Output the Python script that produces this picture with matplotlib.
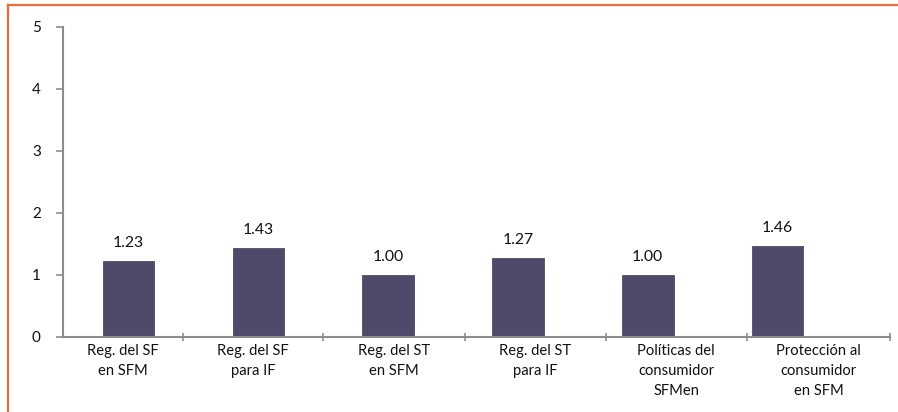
import matplotlib
matplotlib.use("Agg")
import matplotlib.pyplot as plt
from matplotlib.lines import Line2D

categories = ["Reg. del SF\nen SFM", "Reg. del SF\npara IF", "Reg. del ST\nen SFM",
              "Reg. del ST\npara IF", "Políticas del\nconsumidor\nSFMen",
              "Protección al\nconsumidor\nen SFM"]
values = [1.23, 1.43, 1.00, 1.27, 1.00, 1.46]
value_labels = ["1.23", "1.43", "1.00", "1.27", "1.00", "1.46"]
yticks = [0, 1, 2, 3, 4, 5]

plt.rcParams['font.family'] = ['Lato', 'DejaVu Sans']

W, H = 898, 412
fig = plt.figure(figsize=(W / 100, H / 100), dpi=100)
ax = fig.add_axes([63 / W, 75 / H, (890 - 63) / W, (385 - 75) / H])

xs = list(range(len(values)))
ax.bar(xs, values, width=0.398, color="#504A6A", edgecolor="#504A6A", linewidth=0.6, zorder=2)
for x, v, s in zip(xs, values, value_labels):
    ax.annotate(s, (x, v), xytext=(0, 8), textcoords="offset points",
                ha="center", va="bottom", fontsize=11.3, color="#111111")

xmin, xmax = -0.505, 5.867
ax.set_xlim(xmin, xmax)
ax.set_ylim(0, 5)
ax.set_yticks(yticks)
ax.set_yticklabels([str(t) for t in yticks], fontsize=11, color="#111111")

bounds = [xmin, 0.417, 1.498, 2.59, 3.676, 4.765, xmax]
ax.set_xticks(bounds[1:])
ax.set_xticklabels([])
ax.tick_params(axis="x", direction="inout", length=6, width=1.2, color="#8c8c8c")
ax.tick_params(axis="y", direction="out", length=5, width=1.2, color="#8c8c8c", pad=11)
mids = [(a + b) / 2 for a, b in zip(bounds[:-1], bounds[1:])]
for m, c in zip(mids, categories):
    ax.text(m, -0.11, c, ha="center", va="top", fontsize=10.6, color="#111111",
            linespacing=1.55)

for side in ["top", "right"]:
    ax.spines[side].set_visible(False)
for side in ["left", "bottom"]:
    ax.spines[side].set_color("#8c8c8c")
    ax.spines[side].set_linewidth(1.5)

orange = "#F26B3A"
fig.add_artist(Line2D([8 / W, 1], [1 - 5 / H, 1 - 5 / H], transform=fig.transFigure,
                      color=orange, linewidth=1.6))
fig.add_artist(Line2D([8 / W, 8 / W], [0, 1 - 5 / H], transform=fig.transFigure,
                      color=orange, linewidth=1.6))

fig.savefig("out.png", dpi=100)
